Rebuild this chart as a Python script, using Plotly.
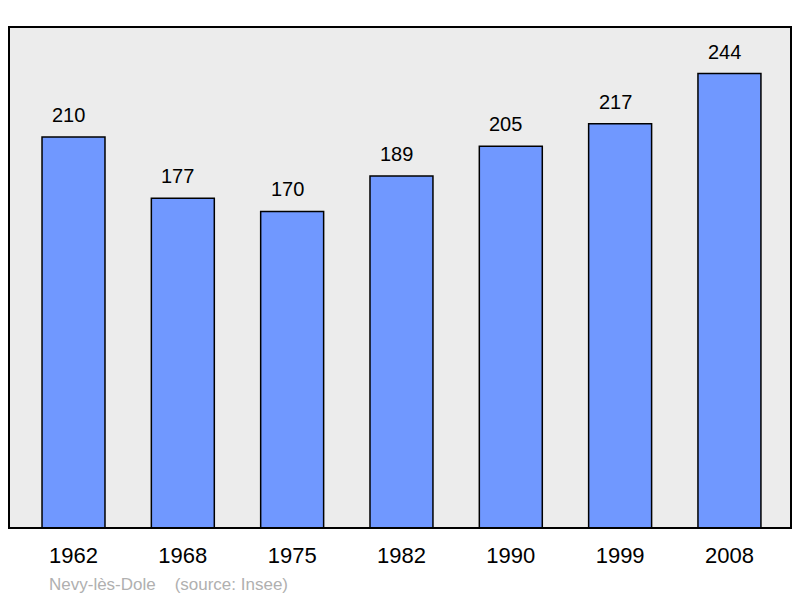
import plotly.graph_objects as go

years = ["1962", "1968", "1975", "1982", "1990", "1999", "2008"]
population = [210, 177, 170, 189, 205, 217, 244]
place = "Nevy-lès-Dole"
source = "(source: Insee)"

idx = list(range(len(years)))

fig = go.Figure()
fig.add_trace(go.Bar(
    x=idx, y=population, width=0.576,
    marker=dict(color="#7098ff", line=dict(color="#000000", width=1.5)),
    hoverinfo="skip",
))

for i, v in zip(idx, population):
    fig.add_annotation(x=i, y=v, text=str(v), showarrow=False,
                       yanchor="bottom", yshift=9, xshift=-5,
                       font=dict(family="Liberation Sans, Arial", size=20, color="#000"))

fig.add_annotation(xref="paper", yref="paper", x=0.049, y=-0.112, xanchor="left",
                   yanchor="middle", text=place + "&nbsp;&nbsp;&nbsp;&nbsp;" + source,
                   showarrow=False,
                   font=dict(family="Liberation Sans, Arial", size=17, color="#b0b0b0"))

fig.add_shape(type="rect", xref="paper", yref="paper", x0=0, x1=1, y0=0, y1=1,
              line=dict(color="#000", width=2), layer="above")

fig.update_layout(
    width=800, height=598,
    margin=dict(l=9, r=9, t=27, b=70),
    paper_bgcolor="#ffffff", plot_bgcolor="#ececec",
    showlegend=False,
    xaxis=dict(range=[-0.59, 6.563], tickvals=idx, ticktext=years,
               showgrid=False, zeroline=False, ticks="", ticklen=0,
               ticklabelstandoff=12,
               tickfont=dict(family="Liberation Sans, Arial", size=22, color="#000")),
    yaxis=dict(range=[0, 269], showgrid=False, zeroline=False,
               showticklabels=False, ticks=""),
)

fig.write_html("out.html", config={"displayModeBar": False},
               post_script="document.body.style.margin='0';")
